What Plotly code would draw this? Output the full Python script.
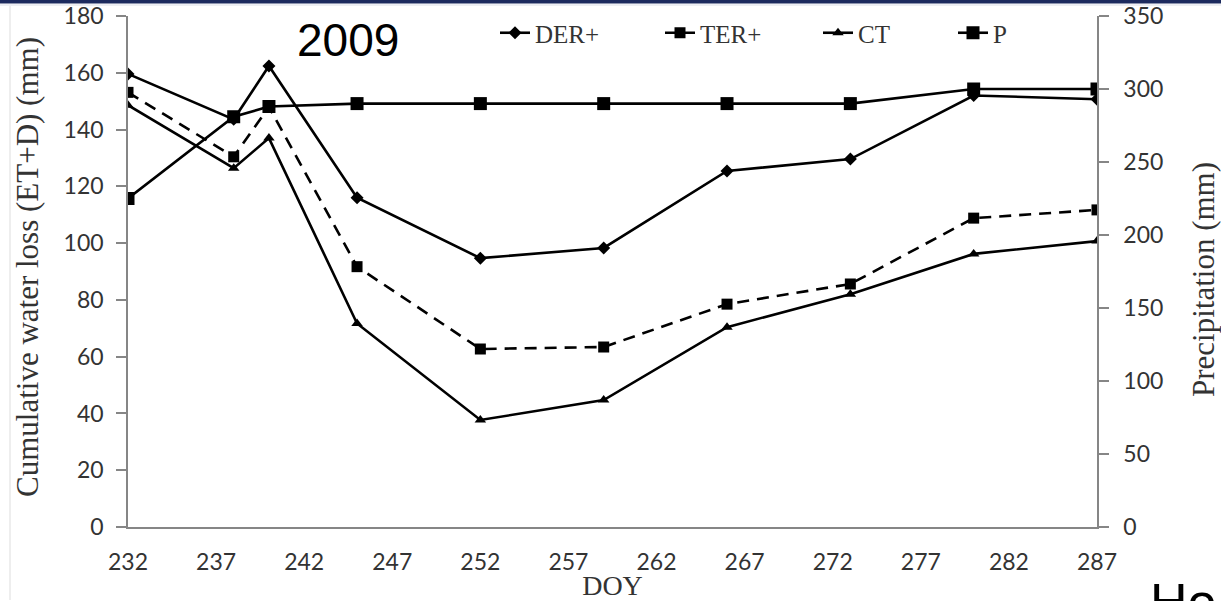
import plotly.graph_objects as go

# Day of year of each measurement
doy = [232, 238, 240, 245, 252, 259, 266, 273, 280, 287]

# Cumulative water loss (ET+D), mm
der_plus = [159.6, 143.6, 162.4, 116.0, 94.7, 98.3, 125.4, 129.6, 152.0, 150.7]
ter_plus = [153.1, 130.4, 148.0, 91.7, 62.7, 63.4, 78.5, 85.6, 108.8, 111.7]
ct = [148.6, 126.4, 137.0, 71.7, 37.7, 44.7, 70.4, 82.0, 96.2, 100.7]

# Cumulative precipitation, mm (right axis)
precip = [225, 281, 288, 290, 290, 290, 290, 290, 300, 300]

x_ticks = [232, 237, 242, 247, 252, 257, 262, 267, 272, 277, 282, 287]

W, H = 1221, 601
ML, MR, MT, MB = 128, 124, 16, 74
PW, PH = W - ML - MR, H - MT - MB


def px_x(p):
    return (p - ML) / PW


def px_y(p):
    return (H - MB - p) / PH


serif = "Liberation Serif, Times New Roman, serif"
sans_tick = "Lato, Open Sans, sans-serif"
text_col = "#333333"
axis_col = "#868686"

fig = go.Figure()

fig.add_trace(go.Scatter(
    x=doy, y=der_plus, name="DER+", mode="lines+markers",
    line=dict(color="black", width=2.6),
    marker=dict(symbol="diamond", size=10, color="black"),
    legendwidth=120,
))
fig.add_trace(go.Scatter(
    x=doy, y=ter_plus, name="TER+", mode="lines+markers",
    line=dict(color="black", width=2.6, dash="12px,8px"),
    marker=dict(symbol="square", size=11, color="black"),
    legendwidth=113,
))
fig.add_trace(go.Scatter(
    x=doy, y=ct, name="CT", mode="lines+markers",
    line=dict(color="black", width=2.6),
    marker=dict(symbol="triangle-up", size=10, color="black"),
    legendwidth=90,
))
fig.add_trace(go.Scatter(
    x=doy, y=precip, name="P", mode="lines+markers", yaxis="y2",
    line=dict(color="black", width=2.6),
    marker=dict(symbol="square", size=13, color="black"),
))

fig.update_layout(
    width=W, height=H,
    margin=dict(l=ML, r=MR, t=MT, b=MB, pad=0, autoexpand=False),
    paper_bgcolor="white", plot_bgcolor="white",
    showlegend=True,
    legend=dict(
        orientation="h", x=px_x(495), xanchor="left",
        y=px_y(33), yanchor="middle",
        font=dict(family=serif, size=25, color=text_col),
        bgcolor="rgba(0,0,0,0)", tracegroupgap=0,
    ),
    xaxis=dict(
        range=[232, 287], tickvals=x_ticks, ticks="",
        ticklabelstandoff=14, automargin=False,
        showgrid=False, zeroline=False,
        showline=True, linecolor=axis_col, linewidth=1.5,
        tickfont=dict(family=sans_tick, size=23, color=text_col),
        title=dict(text="DOY", font=dict(family=serif, size=28, color=text_col), standoff=0),
    ),
    yaxis=dict(
        range=[0, 180], dtick=20, ticks="outside", ticklen=10,
        tickcolor=axis_col, tickwidth=1.5, ticklabelstandoff=8, automargin=False,
        showgrid=False, zeroline=False,
        showline=True, linecolor=axis_col, linewidth=1.5,
        tickfont=dict(family=sans_tick, size=23, color=text_col),
    ),
    yaxis2=dict(
        range=[0, 350], dtick=50, overlaying="y", side="right",
        ticks="outside", ticklen=10, tickcolor=axis_col, tickwidth=1.5,
        ticklabelstandoff=10, automargin=False,
        showgrid=False, zeroline=False,
        showline=True, linecolor=axis_col, linewidth=1.5,
        tickfont=dict(family=sans_tick, size=23, color=text_col),
    ),
    annotations=[
        # axis titles
        dict(text="Cumulative water loss (ET+D) (mm)", xref="paper", yref="paper",
             x=px_x(27), y=px_y(267), textangle=-90, showarrow=False,
             xanchor="center", yanchor="middle",
             font=dict(family=serif, size=31, color=text_col)),
        dict(text="Precipitation (mm)", xref="paper", yref="paper",
             x=px_x(1203), y=px_y(280), textangle=-90, showarrow=False,
             xanchor="center", yanchor="middle",
             font=dict(family=serif, size=31, color=text_col)),
        dict(text="2009", xref="paper", yref="paper", x=px_x(348), y=px_y(40),
             xanchor="center", yanchor="middle", showarrow=False,
             font=dict(family="Liberation Sans, Arial, sans-serif", size=46, color="black")),
        dict(text="Ho", xref="paper", yref="paper", x=px_x(1148), y=px_y(571),
             xanchor="left", yanchor="top", showarrow=False,
             font=dict(family="Liberation Sans, Arial, sans-serif", size=52, color="black")),
    ],
    shapes=[
        # slide header band and frame edges
        dict(type="rect", xref="paper", yref="paper", x0=px_x(0), x1=px_x(W),
             y0=px_y(3.5), y1=px_y(0), fillcolor="#1c2a5e", line_width=0, layer="above"),
        dict(type="line", xref="paper", yref="paper", x0=px_x(0), x1=px_x(W),
             y0=px_y(5), y1=px_y(5), line=dict(color="#dcdfe8", width=1)),
        dict(type="line", xref="paper", yref="paper", x0=px_x(10), x1=px_x(10),
             y0=px_y(6), y1=px_y(600), line=dict(color="#dddddd", width=1)),
    ],
)

fig.write_html("out.html")
